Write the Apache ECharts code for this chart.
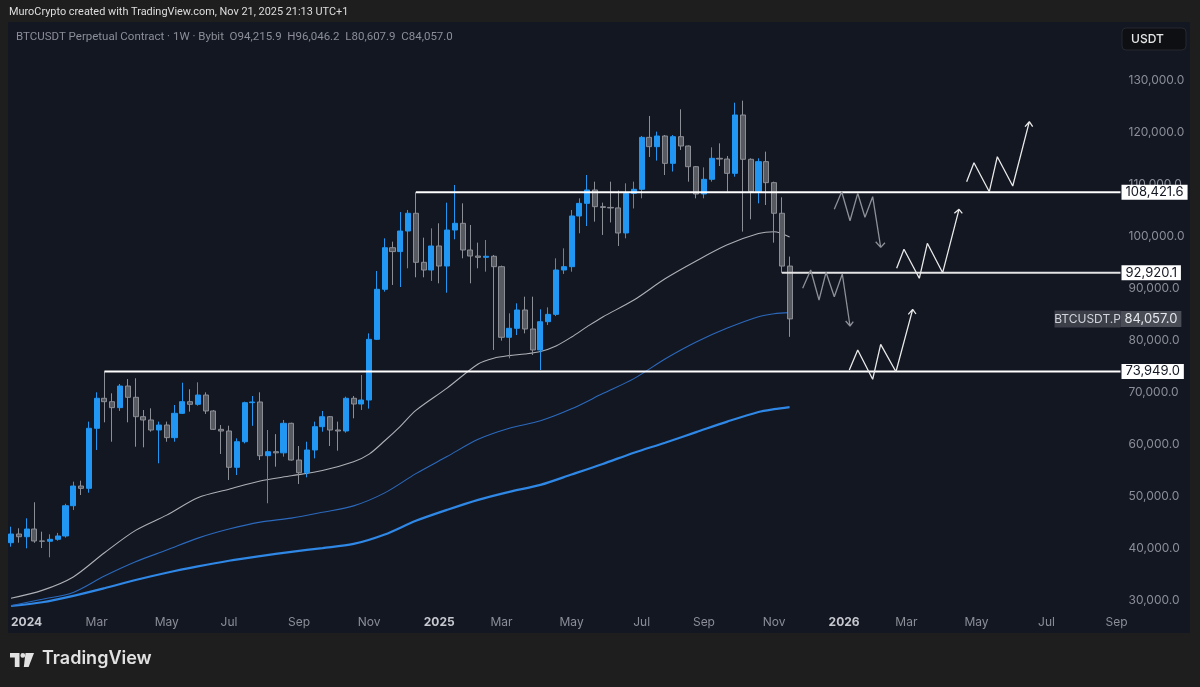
<!DOCTYPE html>
<html>
<head>
<meta charset="utf-8">
<script src="https://cdn.jsdelivr.net/npm/echarts@6/dist/echarts.min.js"></script>
<style>
html,body{margin:0;padding:0;background:#1e1e1e;}
#chart{width:1200px;height:687px;}
</style>
</head>
<body>
<div id="chart"></div>
<script>
// ---------- DATA ----------
const weekCount = 143;            // weekly bars from 2023-12-18 to 2026-09-07
const categories = [];
(function () {
  let t = Date.UTC(2023, 11, 18);
  for (let i = 0; i < weekCount; i++) {
    categories.push(new Date(t).toISOString().slice(0, 10));
    t += 7 * 864e5;
  }
})();

const opens = [41020,42690,42170,43650,41350,41300,41670,42310,48130,51920,
  51470,63020,68790,68140,66990,71150,68980,65250,64620,62690,
  63650,61220,65900,68140,67630,69420,66350,62820,62500,55520,
  60440,67950,68080,57750,58520,58300,63980,56920,54480,58850,
  63330,65250,62690,62500,68790,67690,68460,80130,89750,97750,
  97000,100960,104370,94940,93460,98080,94230,101150,102440,97310,
  96150,95900,96100,94100,80520,82250,85770,82120,78080,83520,
  84930,93460,94100,103850,106280,108850,105640,105500,105400,100580,
  108210,108980,118970,117180,119230,113970,119100,117310,113330,108080,
  110900,114940,114800,112050,123270,114750,108530,114300,110260,104370,
  94215.9];
const closes = [42690,42170,43650,41350,41300,41670,42310,48130,51920,51470,
  63020,68790,68140,66990,71150,68980,65250,64620,62690,63650,
  61220,65900,68140,67630,69420,66350,62820,62500,55520,60440,
  67950,68080,57750,58520,58300,63980,56920,54480,58850,63330,
  65250,62690,62500,68790,67690,68460,80130,89750,97750,97000,
  100960,104370,94940,93460,98080,94230,101150,102440,97310,96150,
  95900,96100,94100,80520,82250,85770,82120,78080,83520,84930,
  93460,94100,103850,106280,108850,105640,105500,105400,100580,108210,
  108980,118970,117180,119230,113970,119100,117310,113330,108080,110900,
  114940,114800,112050,123270,114750,108530,114300,110260,104370,94215.9,
  84057.0];
const highs = [44100,43790,45710,48790,43140,42630,42900,48500,52760,52950,
  64300,69940,73949,69750,71540,72500,72640,66540,66860,64300,
  64300,67500,71790,70520,71860,69940,66540,63650,63520,61090,
  68140,69230,69940,62690,61900,64620,64100,59610,60440,64300,
  66350,65380,64300,69100,69230,73270,81280,93270,99550,98910,
  104600,105000,108421.6,99680,101470,102440,106410,109810,106280,102120,
  98720,99230,96350,94300,85130,87050,88330,88330,85900,86280,
  95710,97630,105000,107250,111730,110450,106410,110450,108720,110130,
  110450,119230,123080,120070,119420,119420,124360,117400,113460,113200,
  117050,117820,115390,125640,126030,114940,114940,116220,110450,107440,
  96046.2];
const lows = [40250,41020,39940,41000,40000,38210,41400,42000,47310,50190,
  50640,58850,64170,60440,66350,64170,59480,59360,62370,56290,
  60440,60440,65770,66220,67370,65770,62690,58080,53080,54040,
  60120,63500,56920,48600,55640,57560,56800,52310,53590,57240,
  62370,59610,58720,62170,64940,66540,66800,80000,89300,90580,
  90190,93790,92060,92060,91350,90900,89100,99360,95710,90900,
  93790,93140,78080,79880,76480,80960,81280,77120,74230,82880,
  84600,92700,93140,100520,101920,102760,100200,102600,98080,99550,
  105300,107250,115200,114500,111730,112400,116540,110450,107250,107250,
  110450,113460,108530,111410,100840,103210,106280,105960,98720,92920.1,
  80607.9];

// moving averages: [bar index, price]
const maGrey = [[0,30350],[4,31850],[8,34440],[12,39080],[16,43390],[20,46320],[24,49670],
  [28,51310],[32,52900],[36,53880],[40,54900],[44,56590],[46,58050],[48,60620],[50,63400],
  [52,66460],[56,70750],[60,75400],[62,76500],[64,77000],[66,77300],[68,77780],[70,78860],
  [72,80580],[74,82570],[76,84440],[80,87680],[84,91770],[88,95200],[92,98300],[96,100470],
  [98,100820],[100,99800]];
const maBlueThin = [[0,28900],[4,30150],[8,31460],[12,34610],[16,37360],[20,39600],[24,41900],
  [28,43640],[32,44970],[36,45750],[40,46870],[44,48100],[48,50600],[52,54300],[56,57590],
  [60,60900],[64,63020],[68,64460],[72,66760],[76,69690],[80,72570],[84,76350],[88,79620],
  [92,82290],[96,84480],[98,85050],[100,85260]];
const maBlueThick = [[0,28850],[4,29570],[8,30800],[12,32270],[16,33840],[20,35240],[24,36460],
  [28,37550],[32,38450],[36,39270],[40,39980],[44,40780],[48,42600],[52,45230],[56,47330],
  [60,49260],[64,50790],[68,52140],[72,54130],[76,56160],[80,58330],[84,60250],[88,62280],
  [92,64310],[96,66160],[98,66700],[100,67100]];

// horizontal levels: value and first bar
const levelValues = [108421.6, 92920.1, 73949.0];
const levelStart  = [52, 99, 12];
const lastClose = 84057.0;
const symbolName = 'BTCUSDT.P';

// hand-drawn projection paths (bar index, price), arrowhead included
const pathDownA = [[105.74,105135],[106.69,108520],[107.76,102940],[108.75,108210],[109.68,103600],
  [110.67,107560],[111.70,97810],[111.06,98900],[111.70,97810],[112.25,98710]];
const pathDownB = [[101.68,89940],[102.71,93460],[103.78,87690],[104.68,93020],[105.74,88330],
  [106.77,92690],[107.76,82690],[107.20,83650],[107.76,82690],[108.18,83520]];
const pathUpA = [[113.75,93790],[114.69,97440],[116.66,91870],[117.69,98600],[119.66,92940],
  [121.76,105130],[121.16,104360],[121.76,105130],[122.18,104360]];
const pathUpB = [[107.67,74230],[108.75,78080],[110.67,72440],[111.70,79170],[113.66,73900],
  [115.81,85900],[115.24,84940],[115.81,85900],[116.23,85000]];
const pathUpC = [[122.74,110440],[123.68,114100],[125.65,108520],[126.68,115250],[128.66,109620],
  [130.79,121980],[130.24,121020],[130.79,121980],[131.22,121020]];

const priceTicks = [30000,40000,50000,60000,70000,80000,90000,100000,110000,120000,130000];
const monthNames = ['Jan','Feb','Mar','Apr','May','Jun','Jul','Aug','Sep','Oct','Nov','Dec'];

const headerText = 'MuroCrypto created with TradingView.com, Nov 21, 2025 21:13 UTC+1';
const legendText = 'BTCUSDT Perpetual Contract \u00b7 1W \u00b7 Bybit  O94,215.9  H96,046.2  L80,607.9  C84,057.0';

// ---------- CHART ----------
const FONT = 'Inter, "Noto Sans", sans-serif';
const FONT_NARROW = 'Roboto, "Liberation Sans", sans-serif';
const fmt1 = v => Number(v).toLocaleString('en-US', {minimumFractionDigits: 1, maximumFractionDigits: 1});

// label every second month (Jan, Mar, May, Jul, Sep, Nov) at its first weekly bar
const tickIdx = new Set();
for (let i = 1; i < categories.length; i++) {
  const m = categories[i].slice(5, 7);
  if (m !== categories[i - 1].slice(5, 7) && (parseInt(m, 10) - 1) % 2 === 0) tickIdx.add(i);
}

function pathSeries(data, color) {
  return {
    type: 'line', xAxisIndex: 1, yAxisIndex: 0, data: data,
    showSymbol: false, silent: true, z: 7,
    lineStyle: { color: color, width: 1.3 }
  };
}

const series = [];
series.push({
  type: 'line', xAxisIndex: 1, data: maBlueThick, showSymbol: false, smooth: 0.3, silent: true, z: 3,
  lineStyle: { color: '#2f87e6', width: 2.2 }
});
series.push({
  type: 'line', xAxisIndex: 1, data: maBlueThin, showSymbol: false, smooth: 0.3, silent: true, z: 3,
  lineStyle: { color: '#2b69bd', width: 1.1 }
});
series.push({
  type: 'line', xAxisIndex: 1, data: maGrey, showSymbol: false, smooth: 0.3, silent: true, z: 3,
  lineStyle: { color: '#aeb0b6', width: 1.1 }
});
series.push({
  type: 'candlestick', xAxisIndex: 0, yAxisIndex: 0,
  data: opens.map((o, i) => [o, closes[i], lows[i], highs[i]]),
  barWidth: '72%', z: 5, silent: true,
  itemStyle: { color: '#2196f3', color0: '#585a62', borderColor: '#2196f3', borderColor0: '#8c8e95', borderWidth: 1 }
});
levelValues.forEach((v, k) => {
  series.push({
    type: 'line', xAxisIndex: 1, yAxisIndex: 0,
    data: [[levelStart[k], v], [weekCount - 0.5, v]],
    showSymbol: false, silent: true, z: 6,
    lineStyle: { color: k === 1 ? '#e4e4e4' : '#ffffff', width: 2 },
    endLabel: { show: true, distance: 1, formatter: fmt1(v), backgroundColor: '#ffffff', color: '#131722',
      fontSize: 13, fontFamily: FONT, padding: [1, 4, 1, 4] }
  });
});
// last price tag (invisible line, symbol + price label)
series.push({
  type: 'line', xAxisIndex: 1, yAxisIndex: 0,
  data: [[closes.length - 1, lastClose], [weekCount - 0.5, lastClose]],
  showSymbol: false, silent: true, z: 8,
  lineStyle: { opacity: 0 },
  endLabel: {
    show: true, distance: 0, offset: [-66, 0],
    formatter: '{n|' + symbolName + '}{v|' + fmt1(lastClose) + '}',
    rich: {
      n: { backgroundColor: '#3c3f48', color: '#d1d4dc', fontSize: 12, fontFamily: FONT, width: 66, align: 'center', padding: [2, 0, 1, 0], height: 14 },
      v: { backgroundColor: '#4a4d56', color: '#e6e8ee', fontSize: 13, fontFamily: FONT, padding: [1, 4, 1, 4], height: 14 }
    }
  }
});
series.push(pathSeries(pathDownA, '#8d9097'));
series.push(pathSeries(pathDownB, '#8d9097'));
series.push(pathSeries(pathUpA, '#e8e8e8'));
series.push(pathSeries(pathUpB, '#e8e8e8'));
series.push(pathSeries(pathUpC, '#e8e8e8'));

const option = {
  backgroundColor: '#1e1e1e',
  animation: false,
  textStyle: { fontFamily: FONT },
  title: [
    { text: headerText, left: 9, top: 6.5, padding: 0, textStyle: { color: '#dedede', fontSize: 10.9, fontWeight: 'normal', fontFamily: FONT_NARROW } },
    { text: legendText, left: 16, top: 31, padding: 0, textStyle: { color: '#8b8e97', fontSize: 11.5, fontWeight: 'normal', fontFamily: FONT_NARROW } }
  ],
  graphic: [
    { type: 'rect', z: -10, silent: true, shape: { x: 8, y: 22, width: 1182, height: 611 }, style: { fill: '#131722' } },
    { type: 'rect', z: 10, silent: true, shape: { x: 1122, y: 28, width: 64, height: 22, r: 4 },
      style: { fill: '#0e0f12', stroke: '#262830', lineWidth: 1 } },
    { type: 'text', z: 11, silent: true, left: 1131, top: 33,
      style: { text: 'USDT', fill: '#e6e6e6', font: '500 12px ' + FONT } },
    { type: 'polygon', z: 10, silent: true, shape: { points: [[10,653],[19.5,653],[19.5,667],[14.8,667],[14.8,657.6],[10,657.6]] }, style: { fill: '#e2e2e2' } },
    { type: 'circle', z: 10, silent: true, shape: { cx: 22.8, cy: 655.4, r: 2.4 }, style: { fill: '#e2e2e2' } },
    { type: 'polygon', z: 10, silent: true, shape: { points: [[25.5,653],[34,653],[28.6,667],[23.8,667]] }, style: { fill: '#e2e2e2' } },
    { type: 'text', z: 10, silent: true, left: 42, top: 650,
      style: { text: 'TradingView', fill: '#e2e2e2', font: '600 18px ' + FONT } }
  ],
  grid: { left: 7.1, right: 79.5, top: 22.8, bottom: 76.6 },
  xAxis: [
    {
      type: 'category', data: categories, boundaryGap: true,
      axisLine: { show: false }, axisTick: { show: false }, splitLine: { show: false },
      axisLabel: {
        interval: (i) => tickIdx.has(i),
        margin: 6, color: '#8b8e97', fontSize: 12, fontFamily: FONT,
        formatter: (v) => {
          const m = parseInt(v.slice(5, 7), 10) - 1;
          return m === 0 ? '{y|' + v.slice(0, 4) + '}' : monthNames[m];
        },
        rich: { y: { fontWeight: 'bold', color: '#c6c8ce', fontSize: 12, fontFamily: FONT } }
      }
    },
    { type: 'value', min: -0.5, max: weekCount - 0.5, show: false }
  ],
  yAxis: {
    type: 'value', position: 'right', min: 28000, max: 141000,
    splitLine: { show: false }, axisLine: { show: false }, axisTick: { show: false },
    axisLabel: { customValues: priceTicks, formatter: fmt1, color: '#8b8e97', fontSize: 12, margin: 8, fontFamily: FONT }
  },
  series: series
};

const chart = echarts.init(document.getElementById('chart'));
chart.setOption(option);
</script>
</body>
</html>
